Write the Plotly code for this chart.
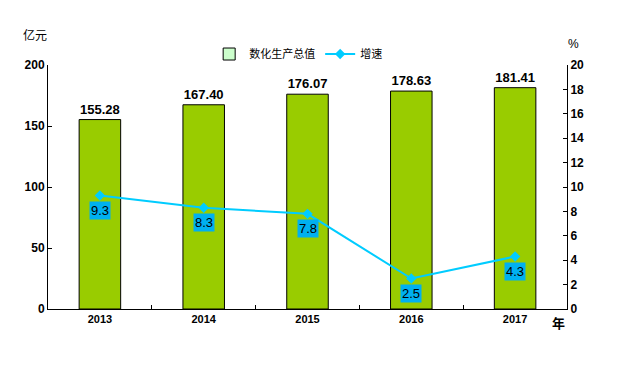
import plotly.graph_objects as go

years = ["2013", "2014", "2015", "2016", "2017"]
output_values = [155.28, 167.40, 176.07, 178.63, 181.41]
growth_rates = [9.3, 8.3, 7.8, 2.5, 4.3]
bar_name = "数化生产总值"
line_name = "增速"

FONT = "Liberation Sans, Arial, sans-serif"
CJK = "Noto Sans CJK SC, sans-serif"

fig = go.Figure()
fig.add_trace(go.Bar(
    x=years, y=output_values, name=bar_name, showlegend=False,
    marker=dict(color="#99CC00", line=dict(color="#000000", width=1)),
    width=0.4,
    texttemplate="%{y:.2f}", textposition="outside", cliponaxis=False,
    textfont=dict(family=FONT, size=13, color="#000000", weight="bold"),
))
# legend-only swatch matching the reference legend colour (no data drawn)
fig.add_trace(go.Bar(
    x=[None], y=[None], name=bar_name, showlegend=True, hoverinfo="skip",
    marker=dict(color="#CCFFCC", line=dict(color="#000000", width=1)),
))
fig.add_trace(go.Scatter(
    x=years, y=growth_rates, name=line_name, yaxis="y2", mode="lines+markers",
    line=dict(color="#00CCFF", width=2),
    marker=dict(symbol="diamond", size=8, color="#00CCFF"),
))

# category axis: annotations addressed by category index
for i, v in enumerate(growth_rates):
    fig.add_annotation(
        x=i, y=v, xref="x", yref="y2", text=f"{v:.1f}", showarrow=False,
        yanchor="top", yshift=-5, bgcolor="#00B0F0", borderpad=1,
        font=dict(family=FONT, size=13, color="#000000"),
    )

fig.add_annotation(xref="paper", yref="paper", x=-0.025, y=1.123, text="亿元",
                   showarrow=False, xanchor="center", yanchor="middle",
                   font=dict(family=CJK, size=12, color="#000000"))
fig.add_annotation(xref="paper", yref="paper", x=1.012, y=1.086, text="%",
                   showarrow=False, xanchor="center", yanchor="middle",
                   font=dict(family=FONT, size=12, color="#000000"))
fig.add_annotation(xref="paper", yref="paper", x=0.983, y=-0.057, text="年",
                   showarrow=False, xanchor="center", yanchor="middle",
                   font=dict(family=CJK, size=13, color="#000000", weight="bold"))

fig.update_layout(
    width=637, height=386,
    margin=dict(l=40, r=78, t=57, b=85, autoexpand=False),
    paper_bgcolor="#FFFFFF", plot_bgcolor="#FFFFFF",
    barmode="overlay",
    showlegend=True,
    legend=dict(orientation="h", x=0.482, y=1.045, xanchor="center", yanchor="middle",
                font=dict(family=CJK, size=11, color="#000000"),
                itemwidth=30, traceorder="normal", itemclick=False, itemdoubleclick=False),
    xaxis=dict(
        type="category", range=[-0.5, len(years) - 0.5],
        showline=True, linecolor="#000000", linewidth=1,
        ticks="inside", ticklen=4, tickcolor="#000000", tickson="boundaries",
        tickfont=dict(family=FONT, size=11, color="#000000", weight="bold"),
        tickangle=0, showgrid=False,
    ),
    yaxis=dict(
        range=[0, 200], dtick=50, showline=True, linecolor="#000000", linewidth=1,
        ticks="inside", ticklen=4, tickcolor="#000000", showgrid=False, zeroline=False,
        tickfont=dict(family=FONT, size=12, color="#000000", weight="bold"),
    ),
    yaxis2=dict(
        range=[0, 20], dtick=2, overlaying="y", side="right",
        showline=True, linecolor="#000000", linewidth=1,
        ticks="inside", ticklen=4, tickcolor="#000000", showgrid=False, zeroline=False,
        tickfont=dict(family=FONT, size=12, color="#000000", weight="bold"),
    ),
)

fig.write_html("out.html")
